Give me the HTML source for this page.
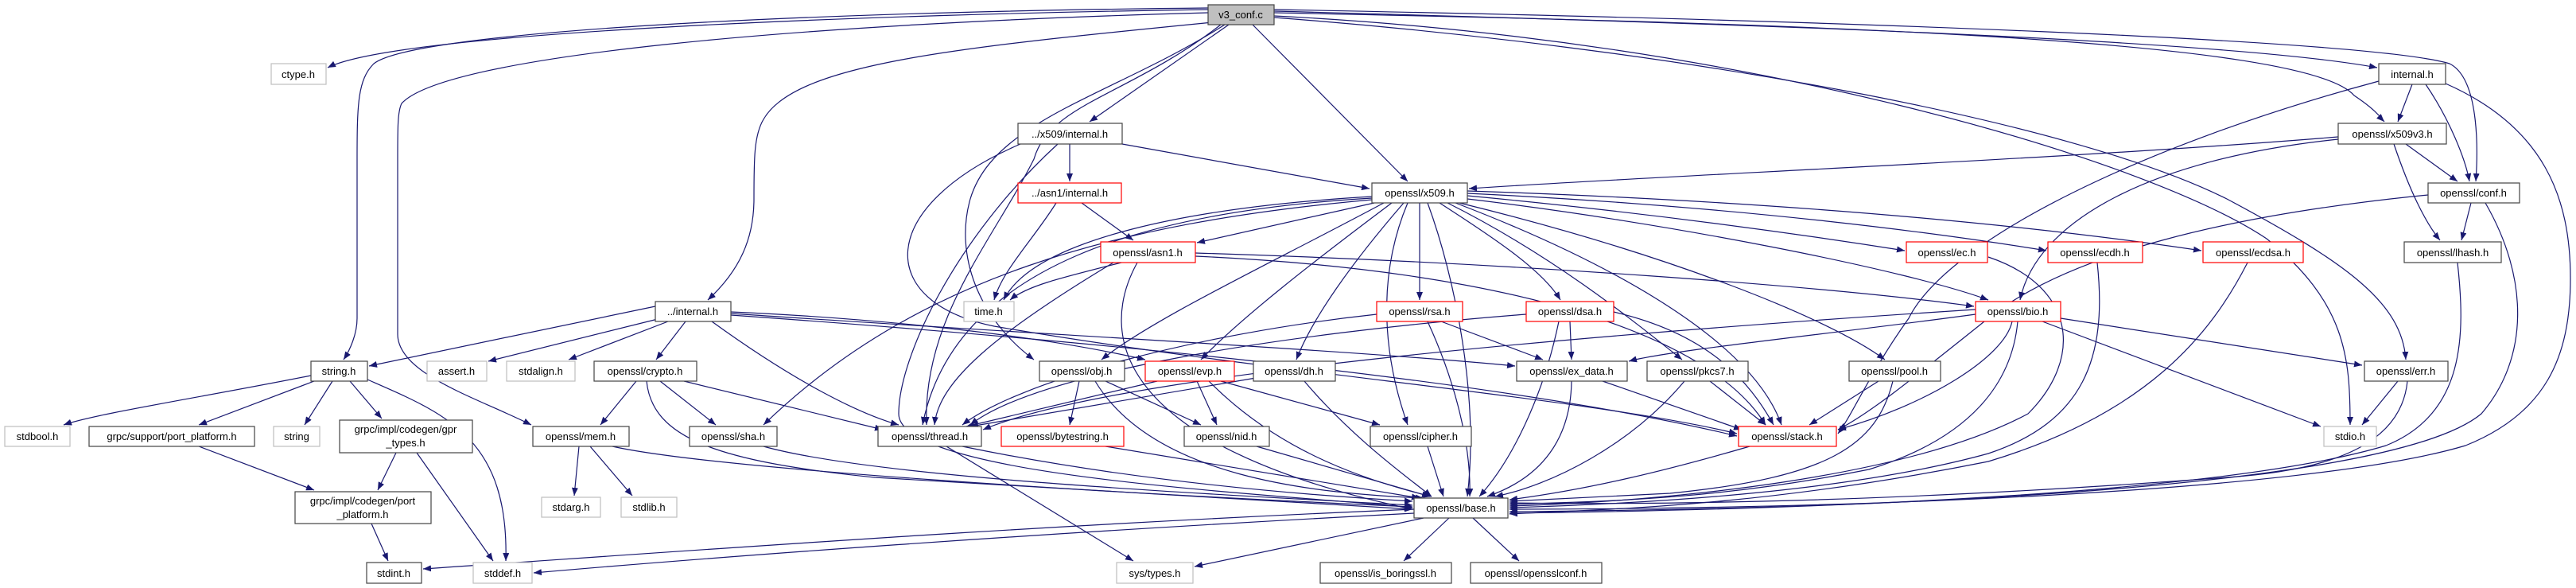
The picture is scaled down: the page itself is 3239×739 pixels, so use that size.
<!DOCTYPE html>
<html><head><meta charset="utf-8"><style>
html,body{margin:0;padding:0;background:#fff;}
svg{display:block;}
text{font-family:"Liberation Sans","DejaVu Sans",sans-serif;font-size:13px;fill:#000;text-anchor:middle;}
.e path{fill:none;stroke:#191970;stroke-width:1.2;}
rect{fill:#fff;stroke:#444;stroke-width:1.2;}
rect.g{stroke:#bfbfbf;}
rect.r{stroke:#ff0000;}
</style></head><body>
<svg width="3239" height="739" viewBox="0 0 3239 739" xmlns="http://www.w3.org/2000/svg">
<defs><marker id="a" markerUnits="userSpaceOnUse" markerWidth="10" markerHeight="8" refX="10" refY="4" orient="auto"><path d="M0,0 L10,4 L0,8 z" fill="#191970"/></marker></defs>
<g class="e" marker-end="url(#a)">
<path d="M1519,12 C1100,18 500,40 412,85" marker-end="url(#a)"/>
<path d="M1519,10 C1000,15 520,40 470,80 C450,100 449,130 449,200 L449,400 C449,420 440,440 432,452" marker-end="url(#a)"/>
<path d="M1519,16 C1000,30 560,70 505,130 C500,140 500,160 500,200 L500,420 C500,470 600,500 668,534" marker-end="url(#a)"/>
<path d="M1525,28 C1200,60 1000,80 960,150 C948,170 948,200 948,250 C948,300 930,340 890,377" marker-end="url(#a)"/>
<path d="M1540,31 C1400,120 1250,150 1220,250 C1200,320 1230,400 1300,452" marker-end="url(#a)"/>
<path d="M1535,31 C1420,120 1320,130 1300,200 C1250,300 1160,400 1165,534" marker-end="url(#a)"/>
<path d="M1545,31 L1370,153" marker-end="url(#a)"/>
<path d="M1575,31 L1770,228" marker-end="url(#a)"/>
<path d="M1602,20 C2200,50 2700,200 2850,300 C2950,380 2955,450 2955,534" marker-end="url(#a)"/>
<path d="M1602,22 C2100,60 2600,150 2800,250 C2950,330 3020,380 3025,452" marker-end="url(#a)"/>
<path d="M1602,14 C2200,30 2800,50 2989,85" marker-end="url(#a)"/>
<path d="M1602,16 C2300,30 2900,50 2960,120 C2990,140 2995,150 2998,153" marker-end="url(#a)"/>
<path d="M1602,12 C2300,25 2980,50 3080,80 C3120,100 3115,200 3113,228" marker-end="url(#a)"/>
<path d="M1345,181 L1345,228" marker-end="url(#a)"/>
<path d="M1411,181 L1722,237" marker-end="url(#a)"/>
<path d="M1330,181 C1200,300 1130,450 1130,520 C1130,600 1600,620 1776,638" marker-end="url(#a)"/>
<path d="M1283,181 C1100,260 1100,380 1250,410 C1600,470 2000,500 2184,545" marker-end="url(#a)"/>
<path d="M1328,255 C1300,300 1260,340 1250,377" marker-end="url(#a)"/>
<path d="M1360,255 L1425,302" marker-end="url(#a)"/>
<path d="M1410,330 C1330,350 1290,360 1270,377" marker-end="url(#a)"/>
<path d="M1430,330 C1380,420 1400,560 1776,640" marker-end="url(#a)"/>
<path d="M1503,318 C1900,330 2300,360 2482,385" marker-end="url(#a)"/>
<path d="M1503,322 C1900,340 2150,420 2220,534" marker-end="url(#a)"/>
<path d="M1400,330 C1250,420 1180,480 1175,534" marker-end="url(#a)"/>
<path d="M1728,255 L1505,305" marker-end="url(#a)"/>
<path d="M1725,247 C1500,260 1300,300 1262,377" marker-end="url(#a)"/>
<path d="M1725,249 C1450,265 1200,330 1160,534" marker-end="url(#a)"/>
<path d="M1725,251 C1400,280 1150,350 960,534" marker-end="url(#a)"/>
<path d="M1740,255 C1600,330 1450,400 1385,452" marker-end="url(#a)"/>
<path d="M1750,255 C1650,330 1560,400 1510,452" marker-end="url(#a)"/>
<path d="M1765,255 C1700,330 1650,400 1630,452" marker-end="url(#a)"/>
<path d="M1785,255 L1785,377" marker-end="url(#a)"/>
<path d="M1770,255 C1730,350 1740,450 1770,534" marker-end="url(#a)"/>
<path d="M1795,255 C1830,350 1860,500 1845,624" marker-end="url(#a)"/>
<path d="M1810,255 C1880,300 1940,340 1962,377" marker-end="url(#a)"/>
<path d="M1820,255 C1950,320 2050,400 2115,452" marker-end="url(#a)"/>
<path d="M1830,255 C2000,320 2200,420 2240,534" marker-end="url(#a)"/>
<path d="M1835,255 C2100,320 2300,400 2370,452" marker-end="url(#a)"/>
<path d="M1845,250 C2100,280 2400,340 2500,377" marker-end="url(#a)"/>
<path d="M1845,246 C2100,270 2300,300 2395,315" marker-end="url(#a)"/>
<path d="M1845,243 C2200,260 2450,295 2573,315" marker-end="url(#a)"/>
<path d="M1845,240 C2300,255 2600,290 2768,315" marker-end="url(#a)"/>
<path d="M3033,106 L3015,153" marker-end="url(#a)"/>
<path d="M3050,106 C3080,150 3100,200 3105,228" marker-end="url(#a)"/>
<path d="M3075,105 C3200,160 3232,250 3232,350 C3232,450 3200,520 3100,560 C2900,620 2300,640 1898,640" marker-end="url(#a)"/>
<path d="M2991,102 C2700,180 2450,300 2400,400 C2350,470 2330,520 2311,545" marker-end="url(#a)"/>
<path d="M2940,172 C2600,200 2100,220 1847,237" marker-end="url(#a)"/>
<path d="M3025,181 L3090,228" marker-end="url(#a)"/>
<path d="M3010,181 C3030,240 3050,280 3068,302" marker-end="url(#a)"/>
<path d="M2940,175 C2700,200 2560,280 2540,377" marker-end="url(#a)"/>
<path d="M3107,255 L3095,302" marker-end="url(#a)"/>
<path d="M3125,255 C3180,350 3180,450 3120,520 C3000,620 2300,640 1898,643" marker-end="url(#a)"/>
<path d="M3053,245 C2800,270 2600,320 2500,400 C2400,480 2350,520 2311,540" marker-end="url(#a)"/>
<path d="M3090,330 C3100,420 3100,520 3000,560 C2800,620 2300,640 1898,645" marker-end="url(#a)"/>
<path d="M2826,330 C2780,420 2700,520 2500,580 C2200,640 2000,640 1898,646" marker-end="url(#a)"/>
<path d="M2637,330 C2650,450 2620,530 2500,570 C2300,625 2000,635 1898,638" marker-end="url(#a)"/>
<path d="M2500,323 C2610,360 2620,450 2550,520 C2400,600 2100,630 1898,636" marker-end="url(#a)"/>
<path d="M2537,404 C2530,480 2480,550 2350,590 C2150,630 2000,630 1898,634" marker-end="url(#a)"/>
<path d="M2530,404 C2520,450 2420,510 2311,540" marker-end="url(#a)"/>
<path d="M2568,404 L2918,536" marker-end="url(#a)"/>
<path d="M2591,400 L2970,459" marker-end="url(#a)"/>
<path d="M2484,395 C2300,420 2100,440 2048,454" marker-end="url(#a)"/>
<path d="M2484,389 C2000,420 1400,470 1236,540" marker-end="url(#a)"/>
<path d="M3027,479 C3020,550 2950,590 2800,600 C2400,630 2100,635 1898,632" marker-end="url(#a)"/>
<path d="M3015,479 L2970,534" marker-end="url(#a)"/>
<path d="M2362,479 L2275,534" marker-end="url(#a)"/>
<path d="M2380,479 C2360,560 2300,600 2100,620 L1898,630" marker-end="url(#a)"/>
<path d="M2200,561 C2100,590 2000,615 1898,628" marker-end="url(#a)"/>
<path d="M2150,479 L2220,534" marker-end="url(#a)"/>
<path d="M2118,479 C2050,560 1950,610 1880,624" marker-end="url(#a)"/>
<path d="M1976,479 C1975,550 1940,600 1870,624" marker-end="url(#a)"/>
<path d="M2015,479 L2190,540" marker-end="url(#a)"/>
<path d="M1974,404 L1976,452" marker-end="url(#a)"/>
<path d="M1960,404 C1940,500 1900,580 1860,624" marker-end="url(#a)"/>
<path d="M1919,395 C1600,420 1300,470 1220,534" marker-end="url(#a)"/>
<path d="M2029,392 C2150,420 2200,480 2230,534" marker-end="url(#a)"/>
<path d="M1795,404 C1830,480 1850,560 1848,624" marker-end="url(#a)"/>
<path d="M1812,404 L1940,452" marker-end="url(#a)"/>
<path d="M1731,395 C1500,420 1280,480 1210,534" marker-end="url(#a)"/>
<path d="M1579,475 L1220,536" marker-end="url(#a)"/>
<path d="M1640,479 C1700,550 1770,600 1800,624" marker-end="url(#a)"/>
<path d="M1455,479 L1215,536" marker-end="url(#a)"/>
<path d="M1505,479 L1530,534" marker-end="url(#a)"/>
<path d="M1535,479 L1735,534" marker-end="url(#a)"/>
<path d="M1520,479 C1600,560 1700,600 1800,624" marker-end="url(#a)"/>
<path d="M1357,479 L1345,534" marker-end="url(#a)"/>
<path d="M1390,479 L1510,534" marker-end="url(#a)"/>
<path d="M1377,479 C1450,600 1650,620 1790,626" marker-end="url(#a)"/>
<path d="M1580,561 L1798,624" marker-end="url(#a)"/>
<path d="M1795,561 L1815,624" marker-end="url(#a)"/>
<path d="M1390,561 L1785,626" marker-end="url(#a)"/>
<path d="M1210,561 C1400,600 1600,620 1776,630" marker-end="url(#a)"/>
<path d="M1190,561 L1425,705" marker-end="url(#a)"/>
<path d="M1790,651 L1502,712" marker-end="url(#a)"/>
<path d="M1822,651 L1765,705" marker-end="url(#a)"/>
<path d="M1852,651 L1910,705" marker-end="url(#a)"/>
<path d="M1778,640 C1300,660 900,690 532,715" marker-end="url(#a)"/>
<path d="M1778,645 C1300,670 900,700 671,720" marker-end="url(#a)"/>
<path d="M824,385 L464,460" marker-end="url(#a)"/>
<path d="M827,401 L614,454" marker-end="url(#a)"/>
<path d="M840,404 L715,452" marker-end="url(#a)"/>
<path d="M862,404 L825,452" marker-end="url(#a)"/>
<path d="M895,404 C1000,480 1080,520 1130,534" marker-end="url(#a)"/>
<path d="M919,394 C1300,420 1700,440 1905,460" marker-end="url(#a)"/>
<path d="M919,396 C1400,430 1900,480 2184,548" marker-end="url(#a)"/>
<path d="M919,392 C1100,400 1300,420 1440,452" marker-end="url(#a)"/>
<path d="M800,479 L755,534" marker-end="url(#a)"/>
<path d="M830,479 L900,534" marker-end="url(#a)"/>
<path d="M860,479 L1110,540" marker-end="url(#a)"/>
<path d="M813,479 C820,550 900,580 1100,600 L1776,640" marker-end="url(#a)"/>
<path d="M728,561 L722,623" marker-end="url(#a)"/>
<path d="M742,561 L795,623" marker-end="url(#a)"/>
<path d="M770,561 C900,590 1400,620 1776,637" marker-end="url(#a)"/>
<path d="M960,561 C1100,600 1500,620 1776,635" marker-end="url(#a)"/>
<path d="M391,472 C250,500 120,520 80,534" marker-end="url(#a)"/>
<path d="M395,479 L250,534" marker-end="url(#a)"/>
<path d="M418,479 L383,534" marker-end="url(#a)"/>
<path d="M440,479 L480,526" marker-end="url(#a)"/>
<path d="M462,477 C560,520 640,550 636,705" marker-end="url(#a)"/>
<path d="M250,561 L395,616" marker-end="url(#a)"/>
<path d="M498,569 L475,616" marker-end="url(#a)"/>
<path d="M524,569 L620,705" marker-end="url(#a)"/>
<path d="M467,658 L488,705" marker-end="url(#a)"/>
</g>
<g>
<rect x="1519" y="6" width="83" height="25" style="fill:#bfbfbf"/><text x="1560" y="23">v3_conf.c</text>
<rect class="g" x="341" y="80" width="69" height="26"/><text x="375" y="98">ctype.h</text>
<rect x="2991" y="80" width="84" height="26"/><text x="3033" y="98">internal.h</text>
<rect x="1280" y="155" width="131" height="26"/><text x="1345" y="173">../x509/internal.h</text>
<rect x="2940" y="155" width="136" height="26"/><text x="3008" y="173">openssl/x509v3.h</text>
<rect class="r" x="1280" y="230" width="130" height="25"/><text x="1345" y="247">../asn1/internal.h</text>
<rect x="1725" y="230" width="120" height="25"/><text x="1785" y="247">openssl/x509.h</text>
<rect x="3053" y="230" width="115" height="25"/><text x="3110" y="247">openssl/conf.h</text>
<rect class="r" x="1384" y="304" width="119" height="26"/><text x="1443" y="322">openssl/asn1.h</text>
<rect class="r" x="2397" y="304" width="102" height="26"/><text x="2448" y="322">openssl/ec.h</text>
<rect class="r" x="2575" y="304" width="119" height="26"/><text x="2634" y="322">openssl/ecdh.h</text>
<rect class="r" x="2770" y="304" width="126" height="26"/><text x="2833" y="322">openssl/ecdsa.h</text>
<rect x="3023" y="304" width="122" height="26"/><text x="3084" y="322">openssl/lhash.h</text>
<rect x="824" y="379" width="95" height="25"/><text x="871" y="396">../internal.h</text>
<rect class="g" x="1212" y="379" width="63" height="25"/><text x="1243" y="396">time.h</text>
<rect class="r" x="1731" y="379" width="108" height="25"/><text x="1785" y="396">openssl/rsa.h</text>
<rect class="r" x="1919" y="379" width="110" height="25"/><text x="1974" y="396">openssl/dsa.h</text>
<rect class="r" x="2484" y="379" width="107" height="25"/><text x="2537" y="396">openssl/bio.h</text>
<rect x="391" y="454" width="71" height="25"/><text x="426" y="471">string.h</text>
<rect class="g" x="537" y="454" width="75" height="25"/><text x="574" y="471">assert.h</text>
<rect class="g" x="637" y="454" width="86" height="25"/><text x="680" y="471">stdalign.h</text>
<rect x="747" y="454" width="129" height="25"/><text x="811" y="471">openssl/crypto.h</text>
<rect x="1307" y="454" width="107" height="25"/><text x="1360" y="471">openssl/obj.h</text>
<rect class="r" x="1440" y="454" width="112" height="25"/><text x="1496" y="471">openssl/evp.h</text>
<rect x="1576" y="454" width="103" height="25"/><text x="1627" y="471">openssl/dh.h</text>
<rect x="1907" y="454" width="139" height="25"/><text x="1976" y="471">openssl/ex_data.h</text>
<rect x="2071" y="454" width="127" height="25"/><text x="2134" y="471">openssl/pkcs7.h</text>
<rect x="2325" y="454" width="115" height="25"/><text x="2382" y="471">openssl/pool.h</text>
<rect x="2973" y="454" width="105" height="25"/><text x="3025" y="471">openssl/err.h</text>
<rect class="g" x="6" y="536" width="82" height="25"/><text x="47" y="553">stdbool.h</text>
<rect x="112" y="536" width="208" height="25"/><text x="216" y="553">grpc/support/port_platform.h</text>
<rect class="g" x="344" y="536" width="58" height="25"/><text x="373" y="553">string</text>
<rect x="427" y="528" width="167" height="41"/><text x="510" y="544">grpc/impl/codegen/gpr</text><text x="510" y="561">_types.h</text>
<rect x="670" y="536" width="121" height="25"/><text x="730" y="553">openssl/mem.h</text>
<rect x="867" y="536" width="110" height="25"/><text x="922" y="553">openssl/sha.h</text>
<rect x="1104" y="536" width="130" height="25"/><text x="1169" y="553">openssl/thread.h</text>
<rect class="r" x="1259" y="536" width="154" height="25"/><text x="1336" y="553">openssl/bytestring.h</text>
<rect x="1489" y="536" width="107" height="25"/><text x="1542" y="553">openssl/nid.h</text>
<rect x="1723" y="536" width="127" height="25"/><text x="1786" y="553">openssl/cipher.h</text>
<rect class="r" x="2186" y="536" width="123" height="25"/><text x="2247" y="553">openssl/stack.h</text>
<rect class="g" x="2922" y="536" width="66" height="25"/><text x="2955" y="553">stdio.h</text>
<rect x="371" y="618" width="171" height="40"/><text x="456" y="634">grpc/impl/codegen/port</text><text x="456" y="651">_platform.h</text>
<rect class="g" x="681" y="625" width="74" height="25"/><text x="718" y="642">stdarg.h</text>
<rect class="g" x="781" y="625" width="70" height="25"/><text x="816" y="642">stdlib.h</text>
<rect x="1778" y="626" width="118" height="25"/><text x="1837" y="643">openssl/base.h</text>
<rect x="461" y="707" width="69" height="26"/><text x="495" y="725">stdint.h</text>
<rect class="g" x="595" y="707" width="74" height="26"/><text x="632" y="725">stddef.h</text>
<rect class="g" x="1404" y="707" width="96" height="26"/><text x="1452" y="725">sys/types.h</text>
<rect x="1660" y="707" width="165" height="26"/><text x="1742" y="725">openssl/is_boringssl.h</text>
<rect x="1849" y="707" width="165" height="26"/><text x="1931" y="725">openssl/opensslconf.h</text>
</g>
</svg>
</body></html>
